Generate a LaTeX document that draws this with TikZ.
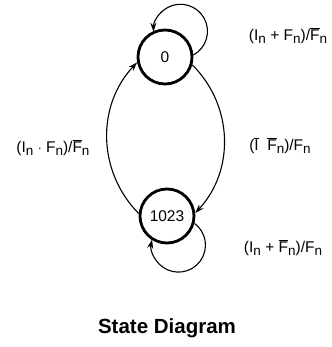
\documentclass[tikz,border=0pt]{standalone}
\usepackage{fontspec}
\setmainfont{Liberation Sans}
\usetikzlibrary{arrows.meta}
\newcommand{\sbn}{\raisebox{-2.7pt}{\fontsize{13.5}{13.5}\selectfont n}}
\newcommand{\olb}[1]{\ensuremath{\overline{\mbox{#1}}}}
\tikzset{
  state/.style={circle, draw, line width=2.8pt, minimum size=54pt, inner sep=0pt, font=\fontsize{15.5}{15.5}\selectfont},
  conn/.style={line width=1.1pt, -{Stealth[length=9pt,width=6pt]}},
  lbl/.style={font=\fontsize{15.5}{15.5}\selectfont, inner sep=0pt},
}
\begin{document}
\begin{tikzpicture}[x=1pt,y=1pt]
\useasboundingbox (0,0) rectangle (331,347);
\node[state] (n0) at (165,290) {0};
\node[state] (n1) at (167,131) {1023};
% self loops
\draw[conn] (n0.4) arc[start angle=-61.6, end angle=181, radius=27];
\draw[conn] (n1.-15) arc[start angle=53.7, end angle=-192, radius=27];
% big arcs
\draw[conn] (n1.175) to[bend left=44] (n0.191);
\draw[conn] (n0.-16) to[bend left=44] (n1.6);
% labels
\node[lbl] (l0) at (288,311) {(I\sbn{} + F\sbn)/\olb{F}\sbn};
\node[lbl] (l1) at (53,199) {(I\sbn{} $\cdot$ F\sbn)/\olb{F}\sbn};
\node[lbl] (l2) at (280,201) {(\olb{I}\hspace{0.55em}\olb{F}\sbn)/F\sbn};
\node[lbl] (l3) at (283,99) {(I\sbn{} + \olb{F}\sbn)/F\sbn};
\node[font=\fontsize{20.5}{20.5}\selectfont\bfseries, inner sep=0pt] (title) at (167,19) {State Diagram};
\end{tikzpicture}
\end{document}
